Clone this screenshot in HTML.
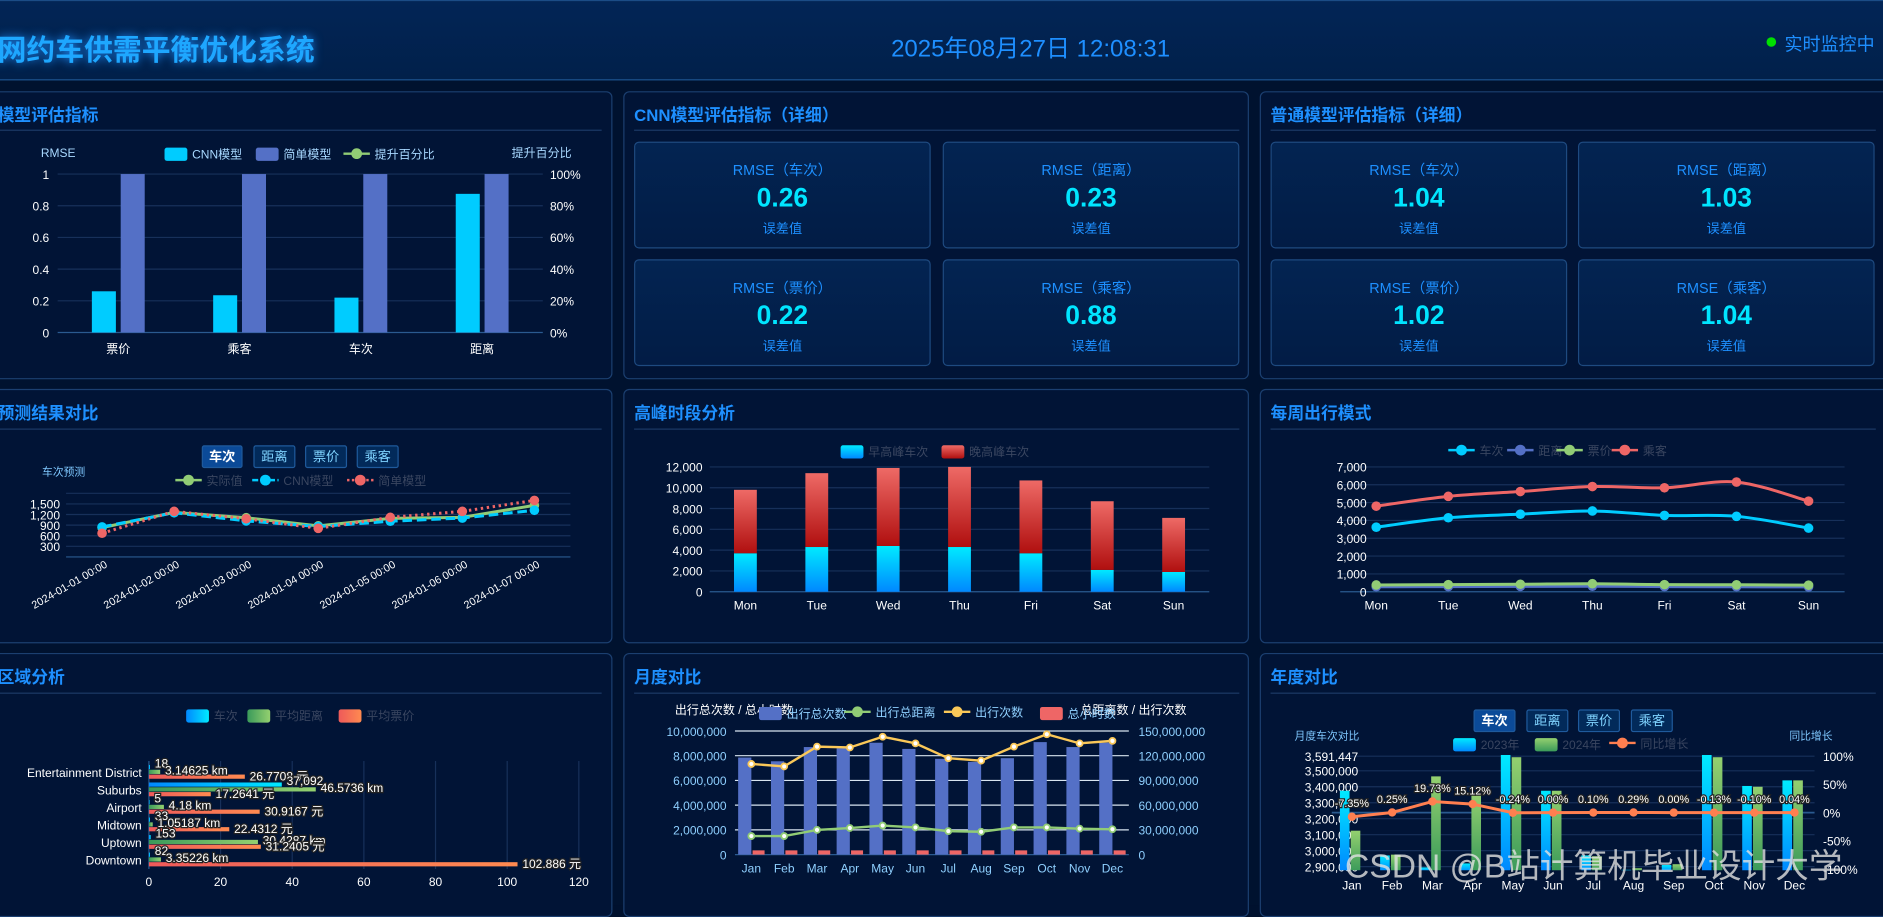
<!DOCTYPE html>
<html><head><meta charset="utf-8">
<style>
html,body{margin:0;padding:0;width:1883px;height:905px;overflow:hidden;background:#00112e;}
#root{position:absolute;left:0;top:0;width:1568px;height:754px;transform:scale(1.2009,1.2003);transform-origin:0 0;font-family:"Liberation Sans","Noto Sans CJK SC",sans-serif;background:#00122f;}
.hdr{position:absolute;left:0;top:0;width:1568px;height:67px;background:linear-gradient(180deg,#022556,#01204a);border-top:1px solid #1b4c86;border-bottom:1px solid #1d5592;box-sizing:border-box;}
.panel{position:absolute;background:#011436;border:1px solid #1b3f70;border-radius:5px;box-sizing:border-box;}
.ptitle{position:absolute;font-size:14px;font-weight:bold;color:#1e90ff;}
.pline{position:absolute;height:1px;background:#1c3a66;}
.card{position:absolute;width:247px;height:89px;background:linear-gradient(180deg,#032452,#021c45);border:1px solid #1e4a80;border-radius:4px;box-sizing:border-box;text-align:center;}
.card .t{position:absolute;top:14px;left:0;right:0;font-size:12px;color:#1e90ff;}
.card .v{position:absolute;top:33px;left:0;right:0;font-size:22px;font-weight:bold;color:#00e5ff;}
.card .s{position:absolute;top:63px;left:0;right:0;font-size:11px;color:#1e90ff;}
.btn{position:absolute;height:19px;font-size:11px;line-height:18px;text-align:center;color:#7fd3ff;border:1px solid #1f5a9c;background:#022a5a;border-radius:2px;box-sizing:border-box;}
.btn.on{background:#0b4a98;color:#fff;font-weight:bold;}
svg{position:absolute;left:0;top:0;}
</style></head><body>
<div id="root">
<div class="hdr">
 <div style="position:absolute;left:-2px;top:21px;font-size:24px;font-weight:bold;color:#1ea7ff;text-shadow:0 0 8px #1e8fff;">网约车供需平衡优化系统</div>
 <div style="position:absolute;left:742px;top:23px;font-size:20px;color:#1e8fff;">2025年08月27日 12:08:31</div>
 <div style="position:absolute;left:1471px;top:30px;width:8px;height:8px;border-radius:50%;background:#00e000;"></div>
 <div style="position:absolute;left:1486px;top:25px;font-size:15px;color:#1e8fff;">实时监控中</div>
</div>

<div class="panel" style="left:-8px;top:76px;width:518px;height:240px;"></div>
<div class="panel" style="left:519px;top:76px;width:521px;height:240px;"></div>
<div class="panel" style="left:1049px;top:76px;width:530px;height:240px;"></div>
<div class="panel" style="left:-8px;top:324px;width:518px;height:212px;"></div>
<div class="panel" style="left:519px;top:324px;width:521px;height:212px;"></div>
<div class="panel" style="left:1049px;top:324px;width:530px;height:212px;"></div>
<div class="panel" style="left:-8px;top:544px;width:518px;height:220px;"></div>
<div class="panel" style="left:519px;top:544px;width:521px;height:220px;"></div>
<div class="panel" style="left:1049px;top:544px;width:530px;height:220px;"></div>

<div class="ptitle" style="left:-2px;top:86px;">模型评估指标</div>
<div class="ptitle" style="left:528px;top:86px;">CNN模型评估指标（详细）</div>
<div class="ptitle" style="left:1058px;top:86px;">普通模型评估指标（详细）</div>
<div class="ptitle" style="left:-2px;top:334px;">预测结果对比</div>
<div class="ptitle" style="left:528px;top:334px;">高峰时段分析</div>
<div class="ptitle" style="left:1058px;top:334px;">每周出行模式</div>
<div class="ptitle" style="left:-2px;top:554px;">区域分析</div>
<div class="ptitle" style="left:528px;top:554px;">月度对比</div>
<div class="ptitle" style="left:1058px;top:554px;">年度对比</div>
<div class="pline" style="left:0;top:108px;width:501px;"></div>
<div class="pline" style="left:528px;top:108px;width:504px;"></div>
<div class="pline" style="left:1058px;top:108px;width:504px;"></div>
<div class="pline" style="left:0;top:357px;width:501px;"></div>
<div class="pline" style="left:528px;top:357px;width:504px;"></div>
<div class="pline" style="left:1058px;top:357px;width:504px;"></div>
<div class="pline" style="left:0;top:577px;width:501px;"></div>
<div class="pline" style="left:528px;top:577px;width:504px;"></div>
<div class="pline" style="left:1058px;top:577px;width:504px;"></div>

<div class="card" style="left:528px;top:118px;"><div class="t">RMSE（车次）</div><div class="v">0.26</div><div class="s">误差值</div></div>
<div class="card" style="left:785px;top:118px;"><div class="t">RMSE（距离）</div><div class="v">0.23</div><div class="s">误差值</div></div>
<div class="card" style="left:528px;top:216px;"><div class="t">RMSE（票价）</div><div class="v">0.22</div><div class="s">误差值</div></div>
<div class="card" style="left:785px;top:216px;"><div class="t">RMSE（乘客）</div><div class="v">0.88</div><div class="s">误差值</div></div>
<div class="card" style="left:1058px;top:118px;"><div class="t">RMSE（车次）</div><div class="v">1.04</div><div class="s">误差值</div></div>
<div class="card" style="left:1314px;top:118px;"><div class="t">RMSE（距离）</div><div class="v">1.03</div><div class="s">误差值</div></div>
<div class="card" style="left:1058px;top:216px;"><div class="t">RMSE（票价）</div><div class="v">1.02</div><div class="s">误差值</div></div>
<div class="card" style="left:1314px;top:216px;"><div class="t">RMSE（乘客）</div><div class="v">1.04</div><div class="s">误差值</div></div>

<div class="btn on" style="left:168px;top:371px;width:34px;">车次</div>
<div class="btn" style="left:211px;top:371px;width:35px;">距离</div>
<div class="btn" style="left:254px;top:371px;width:35px;">票价</div>
<div class="btn" style="left:297px;top:371px;width:35px;">乘客</div>
<div class="btn on" style="left:1227px;top:591px;width:35px;">车次</div>
<div class="btn" style="left:1271px;top:591px;width:35px;">距离</div>
<div class="btn" style="left:1314px;top:591px;width:35px;">票价</div>
<div class="btn" style="left:1358px;top:591px;width:35px;">乘客</div>

<svg id="chart" width="1568" height="754">
<defs>
<linearGradient id="gCyan" x1="0" y1="0" x2="0" y2="1"><stop offset="0" stop-color="#00eaff"/><stop offset="1" stop-color="#0088ff"/></linearGradient>
<linearGradient id="gRed" x1="0" y1="0" x2="0" y2="1"><stop offset="0" stop-color="#ee6a66"/><stop offset="1" stop-color="#b00f0f"/></linearGradient>
<linearGradient id="gGreen" x1="0" y1="0" x2="0" y2="1"><stop offset="0" stop-color="#94d06f"/><stop offset="1" stop-color="#3a9a5a"/></linearGradient>
<linearGradient id="hCyan" x1="0" y1="0" x2="1" y2="0"><stop offset="0" stop-color="#0088ff"/><stop offset="1" stop-color="#00eaff"/></linearGradient>
<linearGradient id="hGreen" x1="0" y1="0" x2="1" y2="0"><stop offset="0" stop-color="#3a9a5a"/><stop offset="1" stop-color="#94d06f"/></linearGradient>
<linearGradient id="hRed" x1="0" y1="0" x2="1" y2="0"><stop offset="0" stop-color="#ee5a5a"/><stop offset="1" stop-color="#ff8a50"/></linearGradient>
<clipPath id="yearClip"><rect x="1100" y="628" width="420" height="97"/></clipPath>
</defs>
</svg>
<div style="position:absolute;left:1120px;top:700px;font-size:28px;color:rgba(225,225,225,0.8);white-space:nowrap;">CSDN @B站计算机毕业设计大学</div>
</div>
<script>
// ---- data ----
const evalCats = ["票价","乘客","车次","距离"];
const evalCnn = [0.26,0.235,0.22,0.875];
const evalSimple = [1,1,1,1];
const evalLeftTicks = ["0","0.2","0.4","0.6","0.8","1"];
const evalRightTicks = ["0%","20%","40%","60%","80%","100%"];

const predDates = ["2024-01-01 00:00","2024-01-02 00:00","2024-01-03 00:00","2024-01-04 00:00","2024-01-05 00:00","2024-01-06 00:00","2024-01-07 00:00"];
const predActual = [830,1260,1110,880,1090,1120,1460];
const predCnn = [850,1250,1020,860,1010,1100,1320];
const predSimple = [670,1290,1080,810,1120,1290,1600];
const predTicks = [300,600,900,1200,1500];

const weekDays = ["Mon","Tue","Wed","Thu","Fri","Sat","Sun"];
const peakMorning = [3700,4300,4400,4300,3700,2100,1900];
const peakEvening = [6100,7100,7500,7700,7000,6600,5200];
const peakTicks = [0,2000,4000,6000,8000,10000,12000];

const weeklyTrips = [3620,4150,4350,4530,4280,4230,3570];
const weeklyDist = [280,290,300,310,290,280,270];
const weeklyFare = [380,400,420,450,400,390,370];
const weeklyPass = [4800,5350,5620,5900,5830,6150,5080];
const weeklyTicks = [0,1000,2000,3000,4000,5000,6000,7000];

const regions = ["Entertainment District","Suburbs","Airport","Midtown","Uptown","Downtown"];
const regionTrips = [0.3,37.09,0.2,0.3,0.5,0.3];
const regionTripLabels = ["18","37,092","5","33","153","82"];
const regionDist = [3.14625,46.5736,4.18,1.05187,30.4287,3.35226];
const regionFare = [26.7708,17.2641,30.9167,22.4312,31.2405,102.886];
const regionTicks = [0,20,40,60,80,100,120];

const months = ["Jan","Feb","Mar","Apr","May","Jun","Jul","Aug","Sep","Oct","Nov","Dec"];
const monthTotal = [7.85,7.55,8.7,8.6,9.05,8.55,7.75,7.5,7.8,9.1,8.7,9.05];
const monthDist = [1.5,1.5,2.0,2.15,2.35,2.2,1.9,1.85,2.2,2.2,2.1,2.05];
const monthTrips = [110,107,131,130,143,135,117,114,131,146,135,138];
const monthHours = [0.15,0.15,0.15,0.15,0.15,0.15,0.15,0.15,0.15,0.15,0.15,0.15];
const monthLeftTicks = ["0","2,000,000","4,000,000","6,000,000","8,000,000","10,000,000"];
const monthRightTicks = ["0","30,000,000","60,000,000","90,000,000","120,000,000","150,000,000"];

const year2023 = [3375000,2970000,2895000,2920000,3600000,3375000,2970000,2880000,2910000,3600000,3405000,3440000];
const year2024 = [3125000,2975000,3465000,3355000,3585000,3375000,2965000,2890000,2915000,3585000,3400000,3440000];
const yearGrowth = [-7.35,0.25,19.73,15.12,-0.24,0.00,0.10,0.29,0.00,-0.13,-0.10,0.04];
const yearLeftTicks = [2900000,3000000,3100000,3200000,3300000,3400000,3500000,3591447];
const yearRightTicks = [-100,-50,0,50,100];

// ---- helpers ----
const svg = document.getElementById('chart');
const NS = 'http://www.w3.org/2000/svg';
function mk(tag, attrs){const e=document.createElementNS(NS,tag);for(const k in attrs)e.setAttribute(k,attrs[k]);svg.appendChild(e);return e;}
function txt(x,y,s,size,fill,anchor,extra){const e=mk('text',Object.assign({x:x,y:y,'font-size':size,fill:fill,'text-anchor':anchor||'start','font-family':'Liberation Sans, Noto Sans CJK SC, sans-serif'},extra||{}));e.textContent=s;return e;}
function lin(d0,d1,r0,r1){return v=>r0+(v-d0)*(r1-r0)/(d1-d0);}
const GRID='#17305a';
function smoothPath(pts){let d='M'+pts[0][0]+','+pts[0][1];for(let i=0;i<pts.length-1;i++){const p0=pts[i-1]||pts[i],p1=pts[i],p2=pts[i+1],p3=pts[i+2]||p2;const c1x=p1[0]+(p2[0]-p0[0])/6,c1y=p1[1]+(p2[1]-p0[1])/6,c2x=p2[0]-(p3[0]-p1[0])/6,c2y=p2[1]-(p3[1]-p1[1])/6;d+=' C'+c1x+','+c1y+' '+c2x+','+c2y+' '+p2[0]+','+p2[1];}return d;}
function legendSq(x,y,fill,label,col){const r=mk('rect',{x:x,y:y-5,width:19,height:11,rx:2,fill:fill});const t=txt(x+23,y+4,label,10,col||'#3a4660');}
function legendLine(x,y,color,label,col,dash){const l=mk('line',{x1:x,y1:y,x2:x+22,y2:y,stroke:color,'stroke-width':2,'stroke-dasharray':dash||''});const c=mk('circle',{cx:x+11,cy:y,r:4.5,fill:color});const t=txt(x+26,y+4,label,10,col||'#3a4660');}

// ---- chart 1: model evaluation ----
(function(){
 const y=lin(0,1,277,145), x0=48, band=101;
 evalLeftTicks.forEach((s,i)=>{const yy=y(i*0.2);const g=mk('line',{x1:48,x2:452,y1:yy,y2:yy,stroke:i==0?'#2a5a90':GRID});const t=txt(41,yy+4,s,10,'#ffffff','end');const r=txt(458,yy+4,evalRightTicks[i],10,'#ffffff','start');});
 evalCats.forEach((c,i)=>{const cx=x0+band*(i+0.5);
  const b1=mk('rect',{x:cx-22,y:y(evalCnn[i]),width:20,height:y(0)-y(evalCnn[i]),fill:'#00ccff'});
  const b2=mk('rect',{x:cx+2,y:y(evalSimple[i]),width:20,height:y(0)-y(evalSimple[i]),fill:'#5470c6'});
  const t=txt(cx,294,c,10,'#ffffff','middle');});
 const a=txt(34,131,'RMSE',10,'#a8d8ff');
 const b=txt(426,131,'提升百分比',10,'#a8d8ff');
 legendSq(137,128,'#00ccff','CNN模型','#a8d8ff');legendSq(213,128,'#5470c6','简单模型','#a8d8ff');legendLine(286,128,'#91cc75','提升百分比','#a8d8ff');
})();

// ---- chart 2: prediction comparison ----
(function(){
 const y=lin(0,1800,464,411), xs=i=>85+60*i;
 [300,600,900,1200,1500,1800].forEach(v=>{const g=mk('line',{x1:55,x2:475,y1:y(v),y2:y(v),stroke:GRID});});
 predTicks.forEach(v=>{const t=txt(50,y(v)+4,v.toLocaleString('en-US'),10,'#ffffff','end');});
 const ax=mk('line',{x1:55,x2:475,y1:464,y2:464,stroke:'#2a5a90'});
 predDates.forEach((d,i)=>{const t=txt(xs(i)+5,472,d,9,'#ffffff','end',{transform:'rotate(-30 '+(xs(i)+5)+' 472)'});});
 const series=[[predActual,'#91cc75','',"actual"],[predCnn,'#00ccff','8 4',"cnn"],[predSimple,'#ee6666','2 3',"simple"]];
 series.forEach(([arr,col,dash,nm])=>{const p=mk('polyline',{points:arr.map((v,i)=>xs(i)+','+y(v)).join(' '),fill:'none',stroke:col,'stroke-width':2.5,'stroke-dasharray':dash});
  arr.forEach((v,i)=>{const c=mk('circle',{cx:xs(i),cy:y(v),r:4,fill:col});});});
 const lb=txt(35,396,'车次预测',9,'#7fc8ff');
 legendLine(146,400,'#91cc75','实际值');legendLine(210,400,'#00ccff','CNN模型','#3a4660','5 2');legendLine(289,400,'#ee6666','简单模型','#3a4660','2 2');
})();

// ---- chart 3: peak hours stacked ----
(function(){
 const y=lin(0,12000,493,389), band=(1007-591)/7, cx=i=>591+band*(i+0.5);
 peakTicks.forEach(v=>{const g=mk('line',{x1:591,x2:1007,y1:y(v),y2:y(v),stroke:v?GRID:'#2a5a90'});const t=txt(585,y(v)+4,v.toLocaleString('en-US'),10,'#ffffff','end');});
 weekDays.forEach((d,i)=>{const m=peakMorning[i],e=peakEvening[i];
  const b1=mk('rect',{x:cx(i)-9.5,y:y(m),width:19,height:y(0)-y(m),fill:'url(#gCyan)'});
  const b2=mk('rect',{x:cx(i)-9.5,y:y(m+e),width:19,height:y(m)-y(m+e),fill:'url(#gRed)'});
  const t=txt(cx(i),508,d,10,'#ffffff','middle');});
 legendSq(700,376,'url(#gCyan)','早高峰车次');legendSq(784,376,'url(#gRed)','晚高峰车次');
})();

// ---- chart 4: weekly pattern ----
(function(){
 const y=lin(0,7000,493,389), xs=i=>1146+60*i;
 weeklyTicks.forEach(v=>{const g=mk('line',{x1:1116,x2:1536,y1:y(v),y2:y(v),stroke:v?GRID:'#2a5a90'});const t=txt(1138,y(v)+4,v.toLocaleString('en-US'),10,'#ffffff','end');});
 weekDays.forEach((d,i)=>{const t=txt(xs(i),508,d,10,'#ffffff','middle');});
 [[weeklyDist,'#5470c6','distance'],[weeklyFare,'#91cc75','fare'],[weeklyTrips,'#00ccff','trips'],[weeklyPass,'#ee6666','passengers']].forEach(([arr,col,nm])=>{const pts=arr.map((v,i)=>[xs(i),y(v)]);const p=mk('path',{d:smoothPath(pts),fill:'none',stroke:col,'stroke-width':2.5});
  pts.forEach(q=>{const c=mk('circle',{cx:q[0],cy:q[1],r:4,fill:col});});});
 legendLine(1206,375,'#00ccff','车次');legendLine(1255,375,'#5470c6','距离');legendLine(1296,375,'#91cc75','票价');legendLine(1342,375,'#ee6666','乘客');
})();

// ---- chart 5: region horizontal bars ----
(function(){
 const x=lin(0,120,124,482), top=636, band=14.6, cy=i=>top+band*(i+0.5);
 regionTicks.forEach(v=>{if(v){const g=mk('line',{x1:x(v),x2:x(v),y1:634,y2:724,stroke:GRID});}const t=txt(x(v),738,String(v),10,'#ffffff','middle');});
 const ax=mk('line',{x1:124,x2:124,y1:634,y2:724,stroke:'#2a5a90'});
 const lab={stroke:'#222','stroke-width':2,'paint-order':'stroke'};
 regions.forEach((r,i)=>{const c=cy(i);
  const t=txt(118,c+4,r,10,'#ffffff','end');
  const b1=mk('rect',{x:124,y:c-6,width:x(regionTrips[i])-124,height:3.5,fill:'url(#hCyan)'});
  const b2=mk('rect',{x:124,y:c-2,width:x(regionDist[i])-124,height:3.5,fill:'url(#hGreen)'});
  const b3=mk('rect',{x:124,y:c+2,width:x(regionFare[i])-124,height:3.5,fill:'url(#hRed)'});
  const l1=txt(x(regionTrips[i])+4,c-4,regionTripLabels[i],10,'#fff','start',lab);
  const l2=txt(x(regionDist[i])+4,c+2,regionDist[i]+' km',10,'#fff','start',lab);
  const l3=txt(x(regionFare[i])+4,c+7,regionFare[i]+' 元',10,'#fff','start',lab);});
 legendSq(155,596,'url(#hCyan)','车次');legendSq(206,596,'url(#hGreen)','平均距离');legendSq(282,596,'url(#hRed)','平均票价');
})();

// ---- chart 6: monthly ----
(function(){
 const y=lin(0,10,712,609), y2=lin(0,150,712,609), band=(940-612)/12, cx=i=>612+band*(i+0.5);
 monthLeftTicks.forEach((s,i)=>{const yy=y(i*2);const g=mk('line',{x1:612,x2:940,y1:yy,y2:yy,stroke:i?'#d8e4f0':'#2a5a90'});const t=txt(605,yy+4,s,10,'#8fd0ff','end');const r=txt(948,yy+4,monthRightTicks[i],10,'#8fd0ff','start');});
 months.forEach((m,i)=>{const b=mk('rect',{x:cx(i)-11,y:y(monthTotal[i]),width:11,height:y(0)-y(monthTotal[i]),fill:'#5470c6'});
  const h=mk('rect',{x:cx(i)+1,y:y(monthHours[i])-2,width:10,height:y(0)-y(monthHours[i])+2,fill:'#ee6666'});
  const t=txt(cx(i),727,m,10,'#8fd0ff','middle');});
 const gp=mk('polyline',{points:monthDist.map((v,i)=>cx(i)+','+y(v)).join(' '),fill:'none',stroke:'#91cc75','stroke-width':2});
 monthDist.forEach((v,i)=>{const c=mk('circle',{cx:cx(i),cy:y(v),r:2.5,fill:'#fff',stroke:'#91cc75','stroke-width':1.5});});
 const yp=mk('polyline',{points:monthTrips.map((v,i)=>cx(i)+','+y2(v)).join(' '),fill:'none',stroke:'#fac858','stroke-width':2});
 monthTrips.forEach((v,i)=>{const c=mk('circle',{cx:cx(i),cy:y2(v),r:2.5,fill:'#fff',stroke:'#fac858','stroke-width':1.5});});
 const a=txt(562,595,'出行总次数 / 总小时数',10,'#ffffff');
 const b=txt(988,595,'总距离数 / 出行次数',10,'#ffffff','end');
 legendSq(632,594,'#5470c6','出行总次数','#8fd0ff');legendLine(703,593,'#91cc75','出行总距离','#8fd0ff');legendLine(786,593,'#fac858','出行次数','#8fd0ff');legendSq(866,594,'#ee6666','总小时数','#8fd0ff');
})();

// ---- chart 7: yearly ----
(function(){
 const y=lin(2900000,3591447,722,630), yr=lin(-100,100,724,630), band=(1511-1109)/12, cx=i=>1109+band*(i+0.5), base=726;
 yearLeftTicks.forEach(v=>{const g=mk('line',{x1:1116,x2:1511,y1:y(v),y2:y(v),stroke:GRID});const t=txt(1131,y(v)+4,v.toLocaleString('en-US'),10,'#ffffff','end');});
 yearRightTicks.forEach(v=>{const t=txt(1518,yr(v)+4,v+'%',10,'#ffffff','start');});
 const ax=mk('line',{x1:1109,x2:1511,y1:yr(0),y2:yr(0),stroke:'#2a5a90','stroke-width':1.5});
 months.forEach((m,i)=>{
  const b1=mk('rect',{x:cx(i)-10,y:Math.max(y(year2023[i]),629),width:8,height:base-Math.max(y(year2023[i]),629),fill:'url(#gCyan)','clip-path':'url(#yearClip)'});
  const b2=mk('rect',{x:cx(i)-1,y:Math.max(y(year2024[i]),630),width:8,height:base-Math.max(y(year2024[i]),630),fill:'url(#gGreen)','clip-path':'url(#yearClip)'});
  const t=txt(cx(i),741,m,10,'#ffffff','middle');});
 const lp=mk('polyline',{points:yearGrowth.map((v,i)=>cx(i)+','+yr(v)).join(' '),fill:'none',stroke:'#ff7f50','stroke-width':2.5});
 yearGrowth.forEach((v,i)=>{const c=mk('circle',{cx:cx(i),cy:yr(v),r:3.5,fill:'#ff7f50'});
  const t=txt(cx(i),yr(v)-8,v.toFixed(2)+'%',9,'#fff','middle',{stroke:'#222','stroke-width':2,'paint-order':'stroke'});});
 const a=txt(1078,616,'月度车次对比',9,'#7fc8ff');
 const b=txt(1490,616,'同比增长',9,'#7fc8ff');
 legendSq(1210,620,'url(#gCyan)','2023年');legendSq(1278,620,'url(#gGreen)','2024年');legendLine(1340,619,'#ff7f50','同比增长');
})();
</script>
</body></html>
